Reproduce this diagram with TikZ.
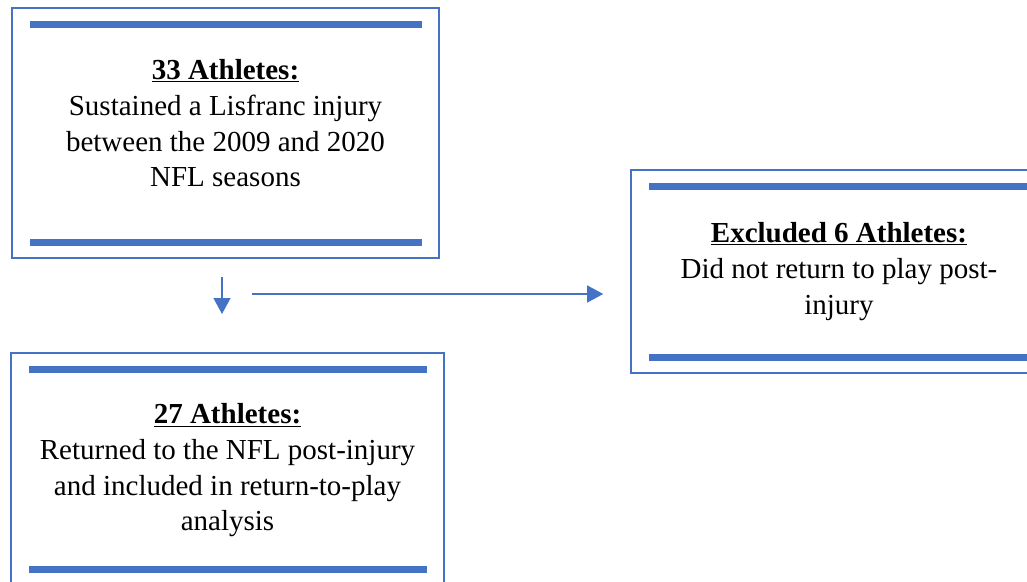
\documentclass[tikz,border=0pt]{standalone}
\usepackage{fontspec}
\setmainfont{Liberation Serif}
\usetikzlibrary{arrows.meta, positioning, calc}
\definecolor{boxblue}{HTML}{4472C4}

\begin{document}
\begin{tikzpicture}[
    x=1pt, y=-1pt,
    every node/.style={font=\fontsize{29}{35.7}\selectfont},
    frame/.style={rectangle, draw=boxblue, line width=1.6pt, inner sep=0pt},
    txt/.style={align=center, inner sep=0pt},
    bar/.style={boxblue, line width=7pt},
    arrow/.style={-{Triangle[length=16pt, width=17pt]}, boxblue, line width=1.3pt}
]
\useasboundingbox (0,0) rectangle (1027,581);

\node[frame, minimum width=427pt, minimum height=250pt] (A) at (225.5,133) {};
\node[frame, minimum width=416pt, minimum height=203pt] (B) at (839,271.5) {};
\node[frame, minimum width=433pt, minimum height=232pt] (C) at (227.5,469) {};

\node[txt] (A-text) at ($(A.center)+(0,-9.5)$) {\underline{\textbf{33 Athletes:}}\\Sustained a Lisfranc injury\\between the 2009 and 2020\\NFL seasons};
\node[txt] (B-text) at (B.center) {\underline{\textbf{Excluded 6 Athletes:}}\\Did not return to play post-\\injury};
\node[txt] (C-text) at ($(C.center)+(0,1.5)$) {\underline{\textbf{27 Athletes:}}\\Returned to the NFL post-injury\\and included in return-to-play\\analysis};

% thick bars inside each box
\foreach \n in {A,B,C} {
  \draw[bar] ($(\n.north west)+(19,17.5)$) -- ($(\n.north east)+(-18,17.5)$);
  \draw[bar] ($(\n.south west)+(19,-16)$) -- ($(\n.south east)+(-18,-16)$);
}

\coordinate (down-top) at (222,277);
\coordinate (down-end) at (222,314);
\coordinate (side-start) at (252,294);
\coordinate (side-end) at ($(B.west |- side-start)+(-27,0)$);

\draw[arrow] (down-top) -- (down-end);
\draw[arrow] (side-start) -- (side-end);
\end{tikzpicture}
\end{document}
